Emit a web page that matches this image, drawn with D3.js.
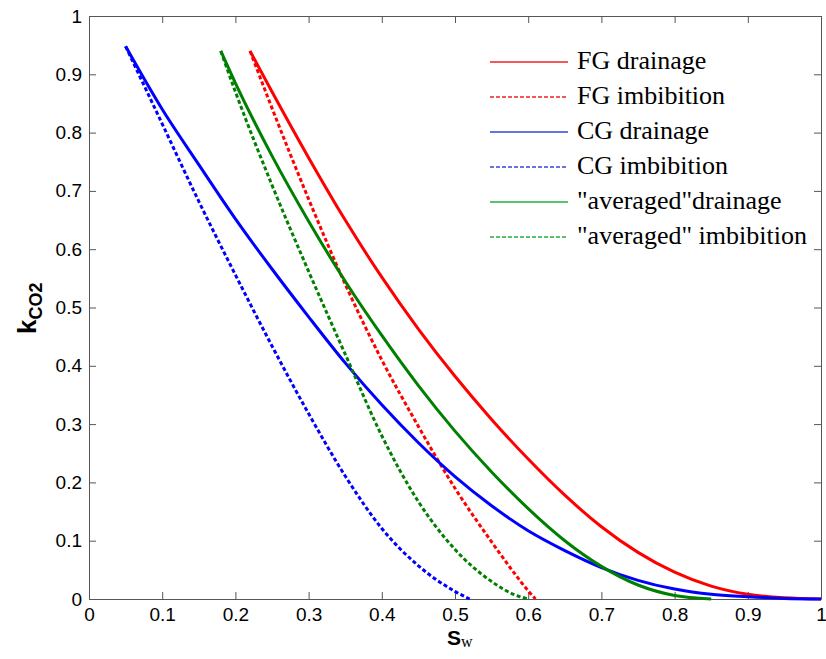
<!DOCTYPE html>
<html>
<head>
<meta charset="utf-8">
<script src="https://cdn.jsdelivr.net/npm/d3@7/dist/d3.min.js"></script>
<style>
  body { margin: 0; background: #fff; }
  .tick text { font-family: "Liberation Sans", Arial, sans-serif; font-size: 19px; fill: #000; }
  .legend-label { font-family: "Liberation Serif", "Times New Roman", serif; font-size: 26px; fill: #000; }
</style>
</head>
<body>
<div id="chart"></div>
<script>
// values (Sw, k) for each curve
const swFgDrain = [0.22, 0.25, 0.30, 0.35, 0.40, 0.45, 0.50, 0.55, 0.60, 0.65, 0.70, 0.75, 0.80, 0.85, 0.90, 0.95, 1.00];
const kFgDrain  = [0.94, 0.87, 0.757, 0.650, 0.552, 0.463, 0.382, 0.308, 0.240, 0.178, 0.124, 0.080, 0.046, 0.022, 0.008, 0.002, 0];

const swFgImb = [0.22, 0.25, 0.30, 0.35, 0.40, 0.45, 0.50, 0.55, 0.58, 0.60, 0.61];
const kFgImb  = [0.94, 0.842, 0.686, 0.540, 0.410, 0.296, 0.190, 0.098, 0.046, 0.014, 0];

const swCgDrain = [0.05, 0.10, 0.15, 0.20, 0.25, 0.30, 0.35, 0.40, 0.45, 0.50, 0.55, 0.60, 0.65, 0.70, 0.75, 0.80, 0.85, 0.90, 0.95, 1.00];
const kCgDrain  = [0.948, 0.84, 0.745, 0.652, 0.566, 0.484, 0.405, 0.333, 0.268, 0.210, 0.160, 0.117, 0.083, 0.054, 0.032, 0.017, 0.008, 0.004, 0.001, 0];

const swCgImb = [0.05, 0.10, 0.15, 0.20, 0.25, 0.30, 0.35, 0.40, 0.45, 0.50, 0.52];
const kCgImb  = [0.948, 0.815, 0.682, 0.556, 0.434, 0.318, 0.211, 0.121, 0.057, 0.013, 0];

const swAvgDrain = [0.18, 0.20, 0.25, 0.30, 0.35, 0.40, 0.45, 0.50, 0.55, 0.60, 0.65, 0.70, 0.75, 0.80, 0.85];
const kAvgDrain  = [0.94, 0.885, 0.76, 0.648, 0.545, 0.452, 0.366, 0.288, 0.218, 0.155, 0.100, 0.056, 0.024, 0.006, 0];

const swAvgImb = [0.18, 0.20, 0.25, 0.30, 0.35, 0.40, 0.45, 0.50, 0.55, 0.58, 0.60];
const kAvgImb  = [0.94, 0.87, 0.71, 0.562, 0.42, 0.28, 0.167, 0.085, 0.030, 0.008, 0];

const seriesNames = ['FG drainage', 'FG imbibition', 'CG drainage', 'CG imbibition', '"averaged"drainage', '"averaged" imbibition'];
const xTicks = [0, 0.1, 0.2, 0.3, 0.4, 0.5, 0.6, 0.7, 0.8, 0.9, 1];
const yTicks = [0, 0.1, 0.2, 0.3, 0.4, 0.5, 0.6, 0.7, 0.8, 0.9, 1];

class KrChart {
  constructor(_config, _series) {
    this.config = {
      parentElement: _config.parentElement,
      containerWidth: _config.containerWidth || 826,
      containerHeight: _config.containerHeight || 659,
      margin: _config.margin || {top: 16, right: 5, bottom: 60, left: 89},
      tickLen: 7,
      legendLeft: 490,
      legendTop: 62,
      legendStep: 35
    };
    this.series = _series;
    this.initVis();
  }

  initVis() {
    let vis = this;
    vis.width = vis.config.containerWidth - vis.config.margin.left - vis.config.margin.right;
    vis.height = vis.config.containerHeight - vis.config.margin.top - vis.config.margin.bottom;

    vis.svg = d3.select(vis.config.parentElement).append('svg')
      .attr('width', vis.config.containerWidth)
      .attr('height', vis.config.containerHeight);

    vis.chart = vis.svg.append('g')
      .attr('transform', `translate(${vis.config.margin.left},${vis.config.margin.top})`);

    vis.xScale = d3.scaleLinear().domain([0, 1]).range([0, vis.width]);
    vis.yScale = d3.scaleLinear().domain([0, 1]).range([vis.height, 0]);

    vis.line = d3.line()
      .x(d => vis.xScale(d.sw))
      .y(d => vis.yScale(d.k))
      .curve(d3.curveMonotoneX);

    this.renderVis();
  }

  renderVis() {
    let vis = this;
    const fmt = d => (d === 0 || d === 1) ? String(d) : d3.format('.1f')(d);

    // axes, ticks point inward (matlab box style)
    vis.chart.append('g')
      .attr('transform', `translate(0,${vis.height})`)
      .call(d3.axisBottom(vis.xScale).tickValues(xTicks).tickFormat(fmt)
        .tickSizeInner(-vis.config.tickLen).tickSizeOuter(0).tickPadding(9));
    vis.chart.append('g')
      .call(d3.axisLeft(vis.yScale).tickValues(yTicks).tickFormat(fmt)
        .tickSizeInner(-vis.config.tickLen).tickSizeOuter(0).tickPadding(7));
    vis.chart.append('g')
      .call(d3.axisTop(vis.xScale).tickValues(xTicks).tickFormat('')
        .tickSizeInner(-vis.config.tickLen).tickSizeOuter(0));
    vis.chart.append('g')
      .attr('transform', `translate(${vis.width},0)`)
      .call(d3.axisRight(vis.yScale).tickValues(yTicks).tickFormat('')
        .tickSizeInner(-vis.config.tickLen).tickSizeOuter(0));

    vis.chart.selectAll('.domain, .tick line').attr('stroke', '#555').attr('stroke-width', 1);

    // curves
    vis.chart.selectAll('.curve')
      .data(vis.series)
      .join('path')
      .attr('class', 'curve')
      .attr('fill', 'none')
      .attr('stroke', d => d.color)
      .attr('stroke-width', 3)
      .attr('stroke-dasharray', d => d.dashed ? '4,2.5' : null)
      .attr('d', d => vis.line(d.sw.map((s, i) => ({sw: s, k: d.k[i]}))));

    // legend (no box)
    const legend = vis.svg.append('g').attr('class', 'legend');
    const rows = legend.selectAll('.legend-row')
      .data(vis.series)
      .join('g')
      .attr('class', 'legend-row')
      .attr('transform', (d, i) => `translate(${vis.config.legendLeft},${vis.config.legendTop + i * vis.config.legendStep})`);
    rows.append('line')
      .attr('x1', 0).attr('x2', 78)
      .attr('stroke', d => d.legendColor)
      .attr('stroke-width', 1.5)
      .attr('stroke-dasharray', d => d.dashed ? '4,2' : null);
    rows.append('text')
      .attr('class', 'legend-label')
      .attr('x', 87)
      .attr('y', 7)
      .text(d => d.name);

    // axis titles
    const yLab = vis.svg.append('text')
      .attr('transform', 'translate(36,334) rotate(-90)')
      .attr('font-family', '"Liberation Sans", Arial, sans-serif')
      .attr('font-weight', 'bold');
    yLab.append('tspan').attr('font-size', 26).text('k');
    yLab.append('tspan').attr('font-size', 18).attr('dy', 6).text('CO2');

    const xLab = vis.svg.append('text')
      .attr('x', 447)
      .attr('y', 645);
    xLab.append('tspan')
      .attr('font-family', '"Liberation Sans", Arial, sans-serif')
      .attr('font-weight', 'bold')
      .attr('font-size', 21)
      .text('S');
    xLab.append('tspan')
      .attr('font-family', '"Liberation Serif", "Times New Roman", serif')
      .attr('font-size', 16)
      .attr('dy', 2)
      .text('w');
  }
}

const series = [
  {name: seriesNames[0], sw: swFgDrain, k: kFgDrain, color: '#ff0000', legendColor: '#ee2222', dashed: false},
  {name: seriesNames[1], sw: swFgImb, k: kFgImb, color: '#ff0000', legendColor: '#ee2222', dashed: true},
  {name: seriesNames[2], sw: swCgDrain, k: kCgDrain, color: '#0000ff', legendColor: '#3344dd', dashed: false},
  {name: seriesNames[3], sw: swCgImb, k: kCgImb, color: '#0000ff', legendColor: '#3344dd', dashed: true},
  {name: seriesNames[4], sw: swAvgDrain, k: kAvgDrain, color: '#008000', legendColor: '#22b040', dashed: false},
  {name: seriesNames[5], sw: swAvgImb, k: kAvgImb, color: '#008000', legendColor: '#22b040', dashed: true}
];

const chart = new KrChart({parentElement: '#chart'}, series);
</script>
</body>
</html>
